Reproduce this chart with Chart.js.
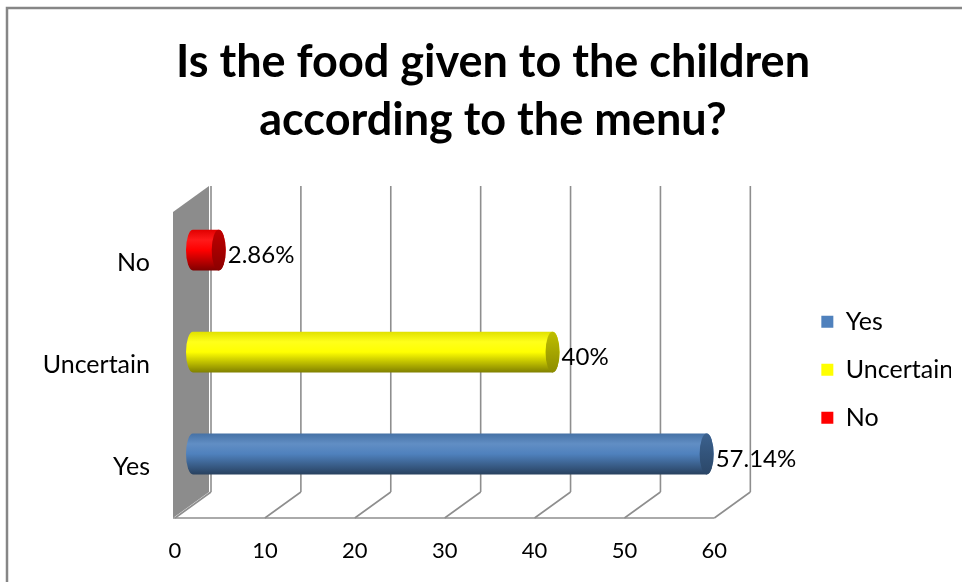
<!DOCTYPE html>
<html>
<head>
<meta charset="utf-8">
<script src="https://cdn.jsdelivr.net/npm/chart.js@4.4.1/dist/chart.umd.min.js"></script>
<style>
  html, body { margin: 0; padding: 0; background: #fff; }
</style>
</head>
<body>
<canvas id="bar-chart" width="962" height="582"></canvas>
<script>
const categories = ["Yes", "Uncertain", "No"];
const percents = [57.14, 40, 2.86];
const colors = ["#4f81bd", "#ffff00", "#ff0000"];
const xTicks = [0, 10, 20, 30, 40, 50, 60];

const FONT = "Lato";
const DX = 36, DY = -26; // depth of the 3d box

function shade(hex, f) {
    const n = parseInt(hex.slice(1), 16);
    let r = n >> 16, g = (n >> 8) & 255, b = n & 255;
    const t = f < 0 ? 0 : 255, p = Math.abs(f);
    r = Math.round(r + (t - r) * p);
    g = Math.round(g + (t - g) * p);
    b = Math.round(b + (t - b) * p);
    return "rgb(" + r + "," + g + "," + b + ")";
}

// outer frame, side wall, back gridlines and floor
const box3d = {
    id: "box3d",
    beforeDraw(chart) {
        const ctx = chart.ctx;
        ctx.save();
        ctx.strokeStyle = "#868686";
        ctx.lineWidth = 2.5;
        ctx.strokeRect(7, 8, 1000, 1000);
        ctx.restore();
    },
    beforeDatasetsDraw(chart) {
        const ctx = chart.ctx;
        const {left, top, bottom, right} = chart.chartArea;
        const x = chart.scales.x;
        ctx.save();
        const x0 = left - 2;
        ctx.fillStyle = "#8c8c8c";
        ctx.beginPath();
        ctx.moveTo(x0, top);
        ctx.lineTo(x0 + DX, top + DY);
        ctx.lineTo(x0 + DX, bottom + DY);
        ctx.lineTo(x0, bottom);
        ctx.closePath();
        ctx.fill();

        ctx.strokeStyle = "#8e8e8e";
        ctx.lineWidth = 1.6;
        xTicks.forEach(v => {
            const px = x.getPixelForValue(v);
            ctx.beginPath();
            ctx.moveTo(px + DX, top + DY);
            ctx.lineTo(px + DX, bottom + DY);
            ctx.moveTo(px, bottom);
            ctx.lineTo(px + DX, bottom + DY);
            ctx.stroke();
        });
        ctx.beginPath();
        ctx.moveTo(x0, bottom);
        ctx.lineTo(right, bottom);
        ctx.stroke();

        // cylinders, drawn half way into the box
        chart.data.datasets.forEach((ds, i) => {
            const meta = chart.getDatasetMeta(i);
            meta.data.forEach((el, j) => {
                if (ds.data[j] == null) return;
                const xs = el.base + DX / 2, xe = el.x + DX / 2;
                const cy = el.y + DY / 2, h = el.height, rx = 7;
                const c = colors[i];
                const g = ctx.createLinearGradient(0, cy - h / 2, 0, cy + h / 2);
                g.addColorStop(0, shade(c, -0.12));
                g.addColorStop(0.25, shade(c, 0.1));
                g.addColorStop(0.5, c);
                g.addColorStop(1, shade(c, -0.5));
                ctx.fillStyle = g;
                ctx.beginPath();
                ctx.moveTo(xs, cy - h / 2);
                ctx.lineTo(xe, cy - h / 2);
                ctx.ellipse(xe, cy, rx, h / 2, 0, -Math.PI / 2, Math.PI / 2);
                ctx.lineTo(xs, cy + h / 2);
                ctx.ellipse(xs, cy, rx, h / 2, 0, Math.PI / 2, Math.PI * 1.5);
                ctx.closePath();
                ctx.fill();

                const gc = ctx.createLinearGradient(0, cy - h / 2, 0, cy + h / 2);
                gc.addColorStop(0, shade(c, -0.25));
                gc.addColorStop(1, shade(c, -0.45));
                ctx.fillStyle = gc;
                ctx.beginPath();
                ctx.ellipse(xe, cy, rx, h / 2, 0, 0, Math.PI * 2);
                ctx.fill();

                ctx.fillStyle = "#000";
                ctx.font = "24px " + FONT;
                ctx.textBaseline = "middle";
                ctx.textAlign = "left";
                ctx.fillText(ds.data[j] + "%", xe + rx + 2, cy + 5);
            });
        });
        ctx.restore();
        return false;
    }
};

new Chart(document.getElementById("bar-chart"), {
    type: "bar",
    data: {
        labels: categories,
        datasets: categories.map((c, i) => ({
            label: c,
            data: categories.map((_, j) => (j === i ? percents[i] : null)),
            backgroundColor: colors[i],
            grouped: false,
            barPercentage: 0.4,
            categoryPercentage: 1
        }))
    },
    plugins: [box3d],
    options: {
        indexAxis: "y",
        responsive: false,
        devicePixelRatio: 1,
        animation: false,
        layout: { padding: { left: 35, right: 11, top: 0, bottom: 0 } },
        plugins: {
            title: {
                display: true,
                text: ["Is the food given to the children", "according to the menu?"],
                color: "#000",
                font: { family: FONT, size: 45, weight: "bold", lineHeight: 1.29 },
                padding: { top: 33, bottom: 63 }
            },
            legend: {
                position: "right",
                fullSize: false,
                title: { display: true, text: "", padding: 0, font: { size: 8 } },
                labels: {
                    color: "#000",
                    font: { family: FONT, size: 25 },
                    boxWidth: 12,
                    boxHeight: 12,
                    padding: 23
                }
            },
            tooltip: { enabled: false }
        },
        scales: {
            x: {
                min: 0,
                max: 60,
                afterBuildTicks: s => { s.ticks = xTicks.map(v => ({ value: v })); },
                afterFit: s => { s.height = 64; },
                grid: { display: false, drawTicks: false },
                border: { display: false },
                ticks: { color: "#000", padding: 20, font: { family: FONT, size: 22 } }
            },
            y: {
                reverse: true,
                afterFit: s => { s.width = 140; },
                grid: { display: false, drawTicks: false },
                border: { display: false },
                ticks: { color: "#000", padding: 25, font: { family: FONT, size: 25 } }
            },
            gap: {
                type: "linear",
                position: "right",
                afterFit: s => { s.width = 84; },
                grid: { display: false, drawTicks: false },
                border: { display: false },
                ticks: { display: false }
            }
        }
    }
});
</script>
</body>
</html>
